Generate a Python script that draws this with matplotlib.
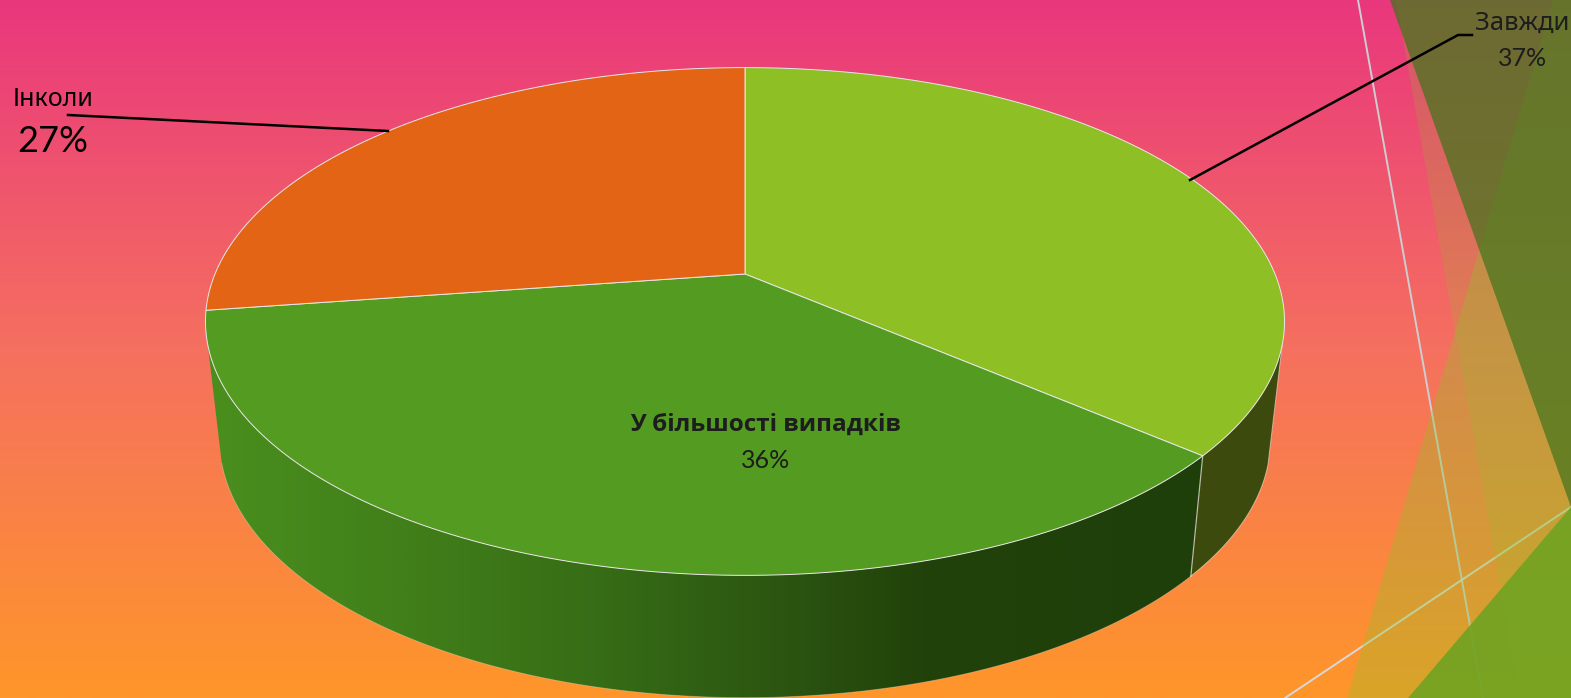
import numpy as np
import matplotlib
matplotlib.use("Agg")
import matplotlib.pyplot as plt
from matplotlib.colors import LinearSegmentedColormap
from matplotlib.patches import Polygon

labels = ["Завжди", "У більшості випадків", "Інколи"]
pct_labels = ["37%", "36%", "27%"]
# slice sizes as drawn, the printed labels are rounded
shares = [36.3, 36.4, 27.3]
top_colors = ["#8EBF24", "#539B21", "#E36414"]
side_color = "#3C4A0E"

W, H = 1571, 698
num_font = ["Lato", "DejaVu Sans"]
txt_font = ["Noto Sans", "DejaVu Sans"]
bold_font = ["Open Sans", "DejaVu Sans"]

fig = plt.figure(figsize=(W / 100, H / 100), dpi=100)
ax = fig.add_axes([0, 0, 1, 1])
ax.axis("off")

# pie projection, pixels in the picture
cx, cy = 745, 274
k, a, b = 0.187, 530, 245


def rim(theta):
    u, v = np.sin(theta), np.cos(theta)
    w = 1 + k * v
    return cx + a * u / w, cy - b * v / w


def low_rim(theta):
    x, y = rim(theta)
    return cx + 0.974 * (x - cx), 1.017 * y + 112.5


def arc(t0, t1, n=200):
    return np.linspace(t0, t1, n)


# background
bg = LinearSegmentedColormap.from_list("bg", ["#E9377D", "#F5705F", "#FF962A"])
ax.imshow(np.linspace(0, 1, 256)[:, None], cmap=bg, extent=[0, W, H, 0], aspect="auto", zorder=0)

# lines behind the corner shapes
ax.plot([1358, 1483], [0, 698], color="#CDCDD2", lw=1.4, zorder=1)
ax.plot([1571, 1285], [507, 698], color="#D8D8D8", lw=1.4, zorder=1)

ax.fill([1396, 1520, 1571, 1571], [0, 698, 698, 0], color="#90C226", alpha=0.2, lw=0, zorder=2)
ax.fill([1347, 1553, 1571, 1571], [698, 0, 0, 698], color="#90C226", alpha=0.33, lw=0, zorder=3)
ax.fill([1390, 1571, 1571], [0, 507, 0], color="#40741B", alpha=0.7, lw=0, zorder=4)
ax.fill([1571, 1408, 1571], [507, 698, 698], color="#70A321", alpha=0.9, lw=0, zorder=5)

# slice angles
ends = np.cumsum(shares) / np.sum(shares) * 2 * np.pi
starts = np.r_[0, ends[:-1]]

# side wall, right part
t_right, t_left = np.radians(106), np.radians(254)
t = arc(t_right, ends[0])
x1, y1 = rim(t)
x2, y2 = low_rim(t)
ax.fill(np.r_[x1, x2[::-1]], np.r_[y1, y2[::-1]], color=side_color, lw=0, zorder=6)
ax.plot(np.r_[x1[0], x2], np.r_[y1[0], y2], color="white", alpha=0.5, lw=0.7, zorder=7)

# side wall, front part with the light going from left to right
t = arc(ends[0], t_left)
x1, y1 = rim(t)
x2, y2 = low_rim(t)
wall = Polygon(np.c_[np.r_[x1, x2[::-1]], np.r_[y1, y2[::-1]]], closed=True, transform=ax.transData, fc="none", ec="none")
ax.add_patch(wall)
shade = LinearSegmentedColormap.from_list("shade", [(0, "#4A8F1E"), (0.2, "#417F1A"), (0.4, "#366C16"),
                                                    (0.6, "#2A5210"), (0.72, "#21420A"), (1, "#1F3F0A")])
im = ax.imshow(np.linspace(0, 1, 512)[None, :], cmap=shade, extent=[205, 1205, H, 0], aspect="auto", zorder=6)
im.set_clip_path(wall)
ax.plot(x2, y2, color="white", alpha=0.3, lw=0.6, zorder=7)

# edge between the two walls
xa, ya = rim(ends[0])
xb, yb = low_rim(ends[0])
ax.plot([xa, xb], [ya, yb], color="white", alpha=0.6, lw=0.9, zorder=7)

# top faces
for s, e, c in zip(starts, ends, top_colors):
    x, y = rim(arc(s, e))
    ax.fill(np.r_[cx, x], np.r_[cy, y], fc=c, ec="#E8E8E8", lw=0.7, joinstyle="round", zorder=8)

# leaders
ax.plot([1190, 1458, 1472], [180, 35, 35], color="black", lw=1.8, zorder=9)
ax.plot([68, 388], [115, 131], color="black", lw=1.8, zorder=9)

# labels
ax.text(1522, 23, labels[0], fontsize=18.5, family=txt_font, color="#1D1D1D", ha="center", va="center", zorder=10)
ax.text(1523, 58, pct_labels[0], fontsize=18, family=num_font, color="#1D1D1D", ha="center", va="center", zorder=10)
ax.text(766, 425, labels[1], fontsize=17.5, family=bold_font, weight="bold", color="#1D1D1D", ha="center", va="center", zorder=10)
ax.text(766, 460, pct_labels[1], fontsize=18, family=num_font, color="#1D1D1D", ha="center", va="center", zorder=10)
ax.text(53, 99, labels[2], fontsize=18, family=txt_font, color="black", ha="center", va="center", zorder=10)
ax.text(53, 141, pct_labels[2], fontsize=26, family=num_font, color="black", ha="center", va="center", zorder=10)

ax.set_xlim(0, W)
ax.set_ylim(H, 0)
fig.savefig("out.png", dpi=100)
